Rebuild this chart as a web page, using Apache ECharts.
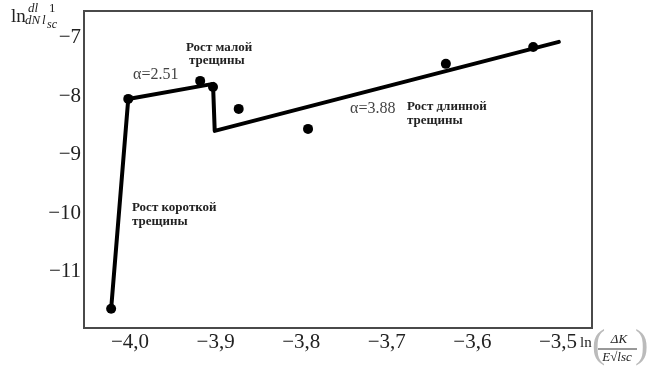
<!DOCTYPE html>
<html>
<head>
<meta charset="utf-8">
<script src="https://cdn.jsdelivr.net/npm/echarts@6/dist/echarts.min.js"></script>
<style>html,body{margin:0;padding:0;background:#fff;}#c{width:652px;height:370px;}</style>
</head>
<body>
<div id="c"></div>
<script>
// Data
const pointX = [-4.022, -4.002, -3.918, -3.903, -3.873, -3.792, -3.631, -3.529];
const pointY = [-11.632, -8.043, -7.735, -7.838, -8.214, -8.556, -7.444, -7.154];
const lineX = [-4.022, -4.002, -3.903, -3.901, -3.499];
const lineY = [-11.632, -8.043, -7.786, -8.59, -7.068];
const xTicks = [-4.0, -3.9, -3.8, -3.7, -3.6, -3.5];
const xTickLabels = ['\u22124,0', '\u22123,9', '\u22123,8', '\u22123,7', '\u22123,6', '\u22123,5'];
const yTicks = [-7, -8, -9, -10, -11];
const yTickLabels = ['\u22127', '\u22128', '\u22129', '\u221210', '\u221211'];

const FONT = 'Liberation Serif';
const chart = echarts.init(document.getElementById('c'), null, {renderer: 'canvas'});

function lab(ticks, labels) {
  return function (v) {
    const i = ticks.findIndex(t => Math.abs(t - v) < 1e-6);
    return i >= 0 ? labels[i] : '';
  };
}

function txt(x, y, s, size, opts) {
  return {
    type: 'text', x: x, y: y, silent: true,
    style: Object.assign({
      text: s, fontFamily: FONT, fontSize: size, fill: '#222',
      textAlign: 'left', textVerticalAlign: 'middle'
    }, opts || {})
  };
}

const option = {
  animation: false,
  backgroundColor: '#fff',
  grid: {left: 84, right: 60, top: 11, bottom: 42, show: true, borderColor: '#4a4a4a', borderWidth: 2, backgroundColor: 'transparent'},
  xAxis: {
    type: 'value', min: -4.0537, max: -3.4603,
    axisLine: {show: false}, axisTick: {show: false}, splitLine: {show: false},
    axisLabel: {customValues: xTicks, formatter: lab(xTicks, xTickLabels), fontFamily: FONT, fontSize: 21, color: '#222', margin: 4}
  },
  yAxis: {
    type: 'value', min: -11.96, max: -6.54,
    axisLine: {show: false}, axisTick: {show: false}, splitLine: {show: false},
    axisLabel: {customValues: yTicks, formatter: lab(yTicks, yTickLabels), fontFamily: FONT, fontSize: 21, color: '#222', margin: 3}
  },
  series: [
    {
      type: 'line', data: lineX.map((x, i) => [x, lineY[i]]),
      showSymbol: false, symbol: 'none',
      lineStyle: {color: '#000', width: 4, join: 'round', cap: 'round'}, z: 2
    },
    {
      type: 'scatter', data: pointX.map((x, i) => [x, pointY[i]]),
      symbol: 'circle', symbolSize: 10, itemStyle: {color: '#000', opacity: 1}, z: 3
    }
  ],
  graphic: [
    // y-axis title
    txt(11, 17, 'ln', 19),
    txt(28, 9, 'dl', 13, {fontStyle: 'italic'}),
    txt(49, 9, '1', 13),
    txt(25, 21, 'dN', 13, {fontStyle: 'italic'}),
    txt(42, 21, 'l', 13, {fontStyle: 'italic'}),
    txt(47, 25, 'sc', 12, {fontStyle: 'italic'}),
    // x-axis title
    txt(580, 343, 'ln', 15),
    txt(592, 346, '(', 40, {fill: '#bbb'}),
    txt(619, 340, '\u0394K', 13, {fontStyle: 'italic', textAlign: 'center'}),
    {type: 'line', silent: true, shape: {x1: 598, y1: 349, x2: 637, y2: 349}, style: {stroke: '#333', lineWidth: 1}},
    {type: 'text', x: 617, y: 358, silent: true, style: {
      text: '{i|E}{n|\u221A}{i|lsc}', textAlign: 'center', textVerticalAlign: 'middle',
      rich: {i: {fontFamily: FONT, fontSize: 13, fontStyle: 'italic', fill: '#222'}, n: {fontFamily: FONT, fontSize: 13, fill: '#222'}}
    }},
    txt(635, 346, ')', 40, {fill: '#bbb'}),
    // annotations
    txt(133, 74.6, '\u03B1=2.51', 16, {fill: '#444'}),
    txt(350, 108.6, '\u03B1=3.88', 16, {fill: '#444'}),
    txt(186, 48, 'Рост малой', 13, {fontWeight: 'bold'}),
    txt(189, 61, 'трещины', 13, {fontWeight: 'bold'}),
    txt(407, 107, 'Рост длинной', 13, {fontWeight: 'bold'}),
    txt(407, 121, 'трещины', 13, {fontWeight: 'bold'}),
    txt(132, 208, 'Рост короткой', 13, {fontWeight: 'bold'}),
    txt(132, 222, 'трещины', 13, {fontWeight: 'bold'})
  ]
};
chart.setOption(option);
</script>
</body>
</html>
